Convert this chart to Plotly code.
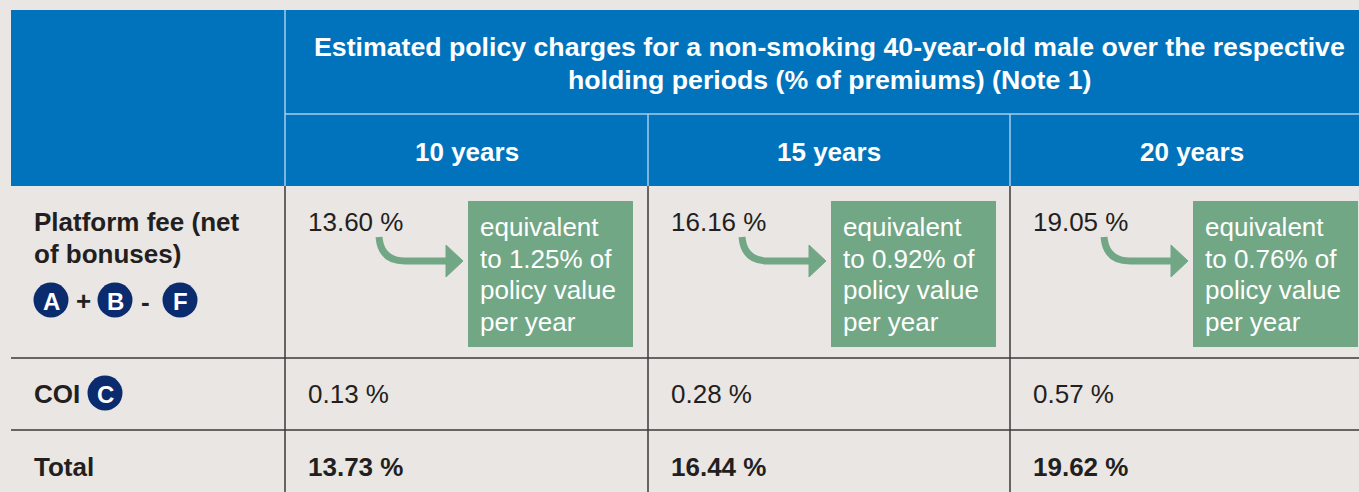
import plotly.graph_objects as go

# ---- data ----
periods = ["10 years", "15 years", "20 years"]
platform_fee = [13.60, 16.16, 19.05]
annual_equiv = [1.25, 0.92, 0.76]
coi = [0.13, 0.28, 0.57]
total = [13.73, 16.44, 19.62]
title_lines = ["Estimated policy charges for a non-smoking 40-year-old male over the respective",
               "holding periods (% of premiums) (Note 1)"]
row_label_lines = ["Platform fee (net", "of bonuses)"]

# ---- style ----
W, H = 1359, 492
BG = "#E9E6E3"
BLUE = "#0073BC"
LIGHT = "#A9CBE8"
GREEN = "#72A786"
NAVY = "#0B2B6F"
DARK = "#231F20"
LINE = "#3A3A3A"
FONT = "Liberation Sans, Arial, sans-serif"
FS = 26

col_edges = [285, 648, 1010, 1373]
left, top = 11, 10
hdr_split, hdr_bottom = 114, 186
row_lines = [358, 430]

shapes = []
ann = []

def text(x, y, s, size=FS, color=DARK, bold=False, xanchor="left"):
    if bold:
        s = "<b>" + s + "</b>"
    if xanchor == "left":
        x = x - 2  # compensate annotation padding
    ann.append(dict(x=x, y=y, text=s, showarrow=False, xanchor=xanchor, yanchor="middle",
                    font=dict(family=FONT, size=size, color=color)))

# header block
shapes.append(dict(type="rect", x0=left, x1=W + 20, y0=top, y1=hdr_bottom, fillcolor=BLUE, line_width=0, layer="below"))
shapes.append(dict(type="line", x0=col_edges[0], x1=W + 20, y0=hdr_split, y1=hdr_split, line=dict(color=LIGHT, width=1.5)))
shapes.append(dict(type="line", x0=col_edges[0], x1=col_edges[0], y0=top, y1=hdr_bottom, line=dict(color=LIGHT, width=1.5)))
for xe in col_edges[1:3]:
    shapes.append(dict(type="line", x0=xe, x1=xe, y0=hdr_split, y1=hdr_bottom, line=dict(color=LIGHT, width=1.5)))

# body grid
for xe in col_edges[:3]:
    shapes.append(dict(type="line", x0=xe, x1=xe, y0=hdr_bottom, y1=H + 5, line=dict(color=LINE, width=1.5)))
for yl in row_lines:
    shapes.append(dict(type="line", x0=left, x1=W + 20, y0=yl, y1=yl, line=dict(color=LINE, width=1.5)))

# title + period headers
tx = (col_edges[0] + col_edges[3]) / 2
for k, ln in enumerate(title_lines):
    text(tx, 47 + 33 * k, ln, size=26.7, color="white", bold=True, xanchor="center")
for i, p in enumerate(periods):
    text((col_edges[i] + col_edges[i + 1]) / 2, 152, p, size=26, color="white", bold=True, xanchor="center")

# row labels
for k, ln in enumerate(row_label_lines):
    text(34, 222 + 32 * k, ln, bold=True)

def badge(cx, cy, letter):
    r = 17.5
    shapes.append(dict(type="circle", x0=cx - r, x1=cx + r, y0=cy - r, y1=cy + r, fillcolor=NAVY, line_width=0))
    text(cx, cy + 1, letter, size=24, color="white", bold=True, xanchor="center")

badge(51, 300, "A")
text(83, 301, "+", bold=True, xanchor="center")
badge(115, 300, "B")
text(145, 302, "-", bold=True, xanchor="center")
badge(180, 300, "F")
text(34, 394, "COI", bold=True)
badge(105, 393, "C")
text(34, 467, "Total", bold=True)

# body cells
for i in range(3):
    x0 = col_edges[i]
    text(x0 + 23, 222, f"{platform_fee[i]:.2f} %")
    text(x0 + 23, 394, f"{coi[i]:.2f} %")
    text(x0 + 23, 467, f"{total[i]:.2f} %", bold=True)
    # green box
    bx0, bx1 = x0 + 183, x0 + 348
    shapes.append(dict(type="rect", x0=bx0, x1=bx1, y0=201, y1=347, fillcolor=GREEN, line_width=0))
    box_lines = ["equivalent", f"to {annual_equiv[i]:.2f}% of", "policy value", "per year"]
    for k, ln in enumerate(box_lines):
        text(bx0 + 12, 227 + 31.7 * k, ln, color="white")
    # curved arrow
    sx = x0 + 94
    shapes.append(dict(type="path", path=f"M {sx} 237 Q {sx+2} 261 {sx+26} 261 L {x0+163} 261",
                       line=dict(color=GREEN, width=7)))
    shapes.append(dict(type="path", path=f"M {x0+161} 245 L {x0+178} 261 L {x0+161} 277 Z",
                       fillcolor=GREEN, line=dict(color=GREEN, width=1)))

fig = go.Figure()
fig.update_layout(
    width=W, height=H, margin=dict(l=0, r=0, t=0, b=0),
    paper_bgcolor=BG, plot_bgcolor=BG,
    xaxis=dict(range=[0, W], visible=False, fixedrange=True),
    yaxis=dict(range=[H, 0], visible=False, fixedrange=True),
    shapes=shapes, annotations=ann, showlegend=False,
)
fig.write_html("out.html", config={"displayModeBar": False},
               post_script="document.body.style.margin='0';document.body.style.overflow='hidden';")
